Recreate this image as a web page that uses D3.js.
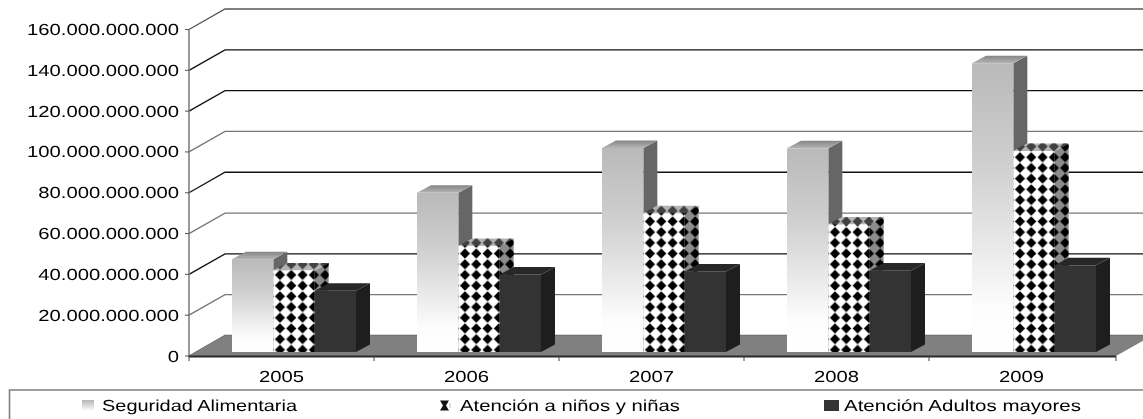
<!DOCTYPE html>
<html><head><meta charset="utf-8">
<script src="https://cdn.jsdelivr.net/npm/d3@7/dist/d3.min.js"></script>
<style>html,body{margin:0;padding:0;background:#fff}svg{display:block;filter:blur(.3px)}
text{font-family:"Liberation Sans",Arial,sans-serif;font-size:16px;fill:#000;text-rendering:geometricPrecision}</style>
</head><body><div id="c"></div>
<script>
const years = ["2005","2006","2007","2008","2009"];
const seriesNames = ["Seguridad Alimentaria","Atención a niños y niñas","Atención Adultos mayores"];
const seguridad = [45.5e9,78e9,100e9,99.8e9,141.5e9];
const ninos = [40e9,52e9,68e9,62.5e9,98.5e9];
const adultos = [30e9,38e9,39.5e9,40e9,42.5e9];
const seriesValues = [seguridad,ninos,adultos];
const yTicks = [0,20e9,40e9,60e9,80e9,100e9,120e9,140e9,160e9];
const gridColors = ["#666","#777","#111","#777","#111","#777","#111","#111","#555"];
const legendTextX = [102,460,844];
const legendTextEnd = [297,680,1081];
const legendSwatchX = [82,440,824];
const legendSwatchW = [12,12,15];

const W=1143,H=419,sx=1.265;
const svg=d3.select("#c").append("svg").attr("width",W).attr("height",H);
const defs=svg.append("defs");
const x=d3.scaleBand().domain(years).range([189,1114]);
const y=d3.scaleLinear().domain([0,160e9]).range([356,29.5]);
const inner=d3.scaleBand().domain(d3.range(3)).range([43,167]);
const back={dx:36,dy:-20.5}, bar={dx:14,dy:-7.5}, lift=4;
const fmt=v=>d3.format(",")(v).replace(/,/g,".");
const label=(t,px,py,anchor,sc)=>svg.append("text").text(t).attr("text-anchor",anchor||"start")
  .attr("transform",`translate(${px},${py}) scale(${sc||sx},1)`);

const gradA=defs.append("linearGradient").attr("id","gA").attr("x1",0).attr("y1",0).attr("x2",0).attr("y2",1);
gradA.append("stop").attr("offset",0).attr("stop-color","#b9b9b9");
gradA.append("stop").attr("offset",.35).attr("stop-color","#cfcfcf");
gradA.append("stop").attr("offset",.85).attr("stop-color","#fdfdfd");
gradA.append("stop").attr("offset",1).attr("stop-color","#fff");
const gradT=defs.append("linearGradient").attr("id","gT").attr("x1",0).attr("y1",1).attr("x2",0).attr("y2",0);
gradT.append("stop").attr("offset",0).attr("stop-color","#b5b5b5");
gradT.append("stop").attr("offset",1).attr("stop-color","#858585");
const gradL=defs.append("linearGradient").attr("id","gL").attr("x1",0).attr("y1",0).attr("x2",0).attr("y2",1);
gradL.append("stop").attr("offset",0).attr("stop-color","#b5b5b5");
gradL.append("stop").attr("offset",1).attr("stop-color","#fff");
const pl=defs.append("pattern").attr("id","pLeg").attr("patternUnits","userSpaceOnUse")
  .attr("x",legendSwatchX[1]).attr("y",400).attr("width",12).attr("height",11);
pl.append("rect").attr("width",12).attr("height",11).attr("fill","#fff");
pl.append("path").attr("d","M0 .5H9L6 5.5L9 10.5H0L3 5.5Z").attr("fill","#111");
pl.append("path").attr("d","M10 3V8").attr("stroke","#bbb").attr("stroke-width",1);

// gridlines (left wall and back wall)
svg.selectAll(".grid").data(yTicks).join("polyline").attr("class","grid")
  .attr("points",d=>`${x.range()[0]},${y(d)} ${x.range()[0]+back.dx},${y(d)+back.dy} ${W+5},${y(d)+back.dy}`)
  .attr("fill","none").attr("stroke",(d,i)=>gridColors[i]).attr("stroke-width",1.3);

// floor
const x0=x.range()[0],x1=1116,y0=y(0);
svg.append("polygon").attr("points",`${x0},${y0} ${x1},${y0} ${x1+back.dx},${y0+back.dy} ${x0+back.dx},${y0+back.dy}`)
  .attr("fill","#808080");

// axes
svg.append("line").attr("x1",x0).attr("x2",x0).attr("y1",y(160e9)).attr("y2",y0+1).attr("stroke","#777").attr("stroke-width",1.5);
svg.selectAll(".yt").data(yTicks).join("line").attr("class","yt").attr("x1",x0-4).attr("x2",x0)
  .attr("y1",d=>y(d)).attr("y2",d=>y(d)).attr("stroke","#555");
yTicks.forEach(d=>label(fmt(d),179,y(d)+5.5,"end"));
svg.append("line").attr("x1",x0).attr("x2",x1).attr("y1",y0+.5).attr("y2",y0+.5).attr("stroke","#2a2a2a").attr("stroke-width",2.2);
svg.selectAll(".xt").data(years.map(t=>x(t)).concat([x1])).join("line").attr("class","xt")
  .attr("x1",d=>d).attr("x2",d=>d).attr("y1",y0).attr("y2",y0+5).attr("stroke","#444");
years.forEach(t=>label(t,x(t)+x.bandwidth()/2,382,"middle"));

// bars
const flat=[];
years.forEach((yr,i)=>seriesValues.forEach((vals,s)=>flat.push({yr,i,s,v:vals[i]})));
const bx=d=>x(d.yr)+inner(d.s), bw=inner.bandwidth(), base=y0-lift;
const by=d=>base-(y(0)-y(d.v));
const tw=11.3, th=10.7;
const pats=defs.selectAll(".pp").data(flat.filter(d=>d.s===1)).join("pattern").attr("class","pp")
  .attr("id",d=>"pB"+d.i).attr("patternUnits","userSpaceOnUse").attr("width",tw).attr("height",th)
  .attr("patternTransform",d=>`translate(${bx(d)+1},${base-7.5})`);
pats.append("rect").attr("width",tw).attr("height",th).attr("fill","#fff");
pats.append("path").attr("d",`M${tw/2} .2L${tw-.6} ${th/2}L${tw/2} ${th-.2}L.6 ${th/2}Z`).attr("fill","#000");

const gs=svg.selectAll(".b").data(flat).join("g").attr("class","b");
const sideFill=["#666","#fff","#1e1e1e"], topFill=["url(#gT)","#fff","#272727"], frontFill=d=>d.s===0?"url(#gA)":d.s===2?"#333":`url(#pB${d.i})`;
const topPts=d=>`${bx(d)},${by(d)} ${bx(d)+bw},${by(d)} ${bx(d)+bw+bar.dx},${by(d)+bar.dy} ${bx(d)+bar.dx},${by(d)+bar.dy}`;
const sidePts=d=>`${bx(d)+bw},${by(d)} ${bx(d)+bw+bar.dx},${by(d)+bar.dy} ${bx(d)+bw+bar.dx},${base+bar.dy} ${bx(d)+bw},${base}`;
gs.append("polygon").attr("points",sidePts).attr("fill",d=>d.s===1?`url(#pB${d.i})`:sideFill[d.s]);
gs.filter(d=>d.s===1).append("polygon").attr("points",sidePts).attr("fill","#000").attr("fill-opacity",.45);
gs.append("polygon").attr("points",topPts).attr("fill",d=>d.s===1?`url(#pB${d.i})`:topFill[d.s]);
gs.filter(d=>d.s===1).append("polygon").attr("points",topPts).attr("fill","#777").attr("fill-opacity",.55);
gs.append("rect").attr("x",bx).attr("y",by).attr("width",bw).attr("height",d=>base-by(d)).attr("fill",frontFill);

// legend
svg.append("path").attr("d",`M${W+5},390 H9.5 V${H+5}`).attr("fill","none").attr("stroke","#808080").attr("stroke-width",1.6);
const legFill=["url(#gL)","url(#pLeg)","#333"];
seriesNames.forEach((n,i)=>{
  svg.append("rect").attr("x",legendSwatchX[i]).attr("y",400).attr("width",legendSwatchW[i]).attr("height",11).attr("fill",legFill[i]);
  const t=label(n,legendTextX[i],411);
  const natural=t.node().getComputedTextLength();
  t.attr("transform",`translate(${legendTextX[i]},411) scale(${(legendTextEnd[i]-legendTextX[i])/natural},1)`);
});
</script></body></html>
